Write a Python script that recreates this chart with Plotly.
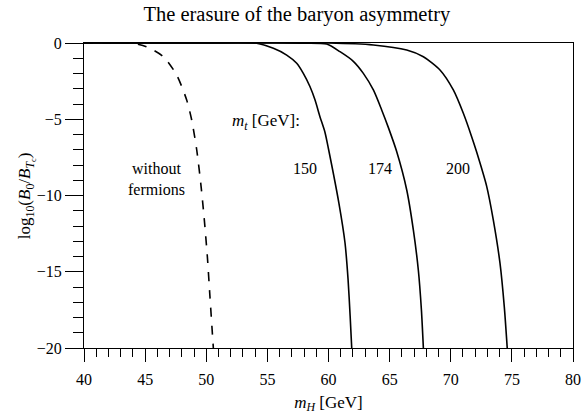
import plotly.graph_objects as go

# Data
x_nof = [40, 42, 43.8, 45.1, 46.5, 47.58, 48.4, 48.81, 49.22, 49.55, 49.82, 50.09, 50.3, 50.58]
y_nof = [0, 0, 0, -0.24, -0.9, -2.1, -3.74, -5.05, -7.0, -9.2, -11.4, -14.0, -16.6, -20]

x_150 = [40, 50, 54.12, 55.49, 56.58, 57.4, 57.94, 58.49, 58.9, 59.3, 59.71, 60.0, 60.85, 61.35, 61.6, 61.77, 61.9]
y_150 = [0, 0, -0.02, -0.35, -0.79, -1.33, -1.99, -2.87, -3.74, -4.83, -5.85, -6.95, -10.5, -13.1, -15.5, -17.9, -20]

x_174 = [40, 55, 57.8, 59.85, 60.94, 62.03, 62.85, 63.67, 64.35, 64.9, 65.57, 66.4, 66.94, 67.35, 67.6, 67.76]
y_174 = [0, 0, -0.01, -0.07, -0.57, -1.2, -1.99, -3.08, -4.39, -5.55, -7.1, -9.64, -12.26, -14.9, -17.5, -20]

x_200 = [40, 60, 63.67, 66.4, 67.76, 69.12, 70.21, 71.03, 71.71, 72.1, 72.94, 73.48, 74.03, 74.38, 74.62]
y_200 = [0, 0, -0.13, -0.46, -0.9, -1.77, -3.08, -4.61, -6.14, -7.1, -9.4, -11.6, -14.45, -17.3, -20]

labels = ["without<br>fermions", "150", "174", "200"]
label_x = [45.9, 58.1, 64.2, 70.6]
label_y = [-8.92, -8.2, -8.2, -8.2]

FONT = "Liberation Serif"

fig = go.Figure()
fig.add_trace(go.Scatter(x=x_nof, y=y_nof, mode="lines",
                         line=dict(color="black", width=1.6, dash="dash", shape="spline", smoothing=0.7)))
for xs, ys in [(x_150, y_150), (x_174, y_174), (x_200, y_200)]:
    fig.add_trace(go.Scatter(x=xs, y=ys, mode="lines",
                             line=dict(color="black", width=1.6, shape="spline", smoothing=0.7)))

for t, lx, ly in zip(labels, label_x, label_y):
    fig.add_annotation(x=lx, y=ly, text=t, showarrow=False,
                       font=dict(family=FONT, size=16, color="black"))
fig.add_annotation(x=54.9, y=-5.16, text="<i>m</i><sub><i>t</i></sub> [GeV]:", showarrow=False,
                   font=dict(family=FONT, size=17, color="black"))
# y-axis title
fig.add_annotation(xref="paper", yref="paper", x=-0.117, y=0.5, xanchor="center", yanchor="middle",
                   textangle=-90, showarrow=False,
                   text="log<sub>10</sub>(<i>B</i><sub>0</sub>/<i>B</i><sub><i>T</i><sub>c</sub></sub>)",
                   font=dict(family=FONT, size=17, color="black"))

axis_common = dict(showgrid=False, zeroline=False, showline=True, linecolor="black", linewidth=1,
                   mirror=True, ticks="outside", tickcolor="black", tickwidth=1, ticklen=13,
                   automargin=False, ticklabeloverflow="allow",
                   tickfont=dict(family=FONT, size=16, color="black"))

fig.update_xaxes(range=[40, 80], tickvals=[40, 45, 50, 55, 60, 65, 70, 75, 80],
                 minor=dict(dtick=1, ticks="outside", ticklen=8, tickcolor="black", tickwidth=1),
                 ticklabelstandoff=4,
                 title=dict(text="<i>m</i><sub><i>H</i></sub> [GeV]", font=dict(family=FONT, size=17, color="black"),
                            standoff=8),
                 **axis_common)
fig.update_yaxes(range=[-20, 0], tickvals=[0, -5, -10, -15, -20],
                 minor=dict(dtick=1, ticks="outside", ticklen=10, tickcolor="black", tickwidth=1),
                 **axis_common)
fig.update_yaxes(ticklen=18)

fig.update_layout(
    width=582, height=418,
    margin=dict(l=84, r=9, t=43, b=70),
    paper_bgcolor="white", plot_bgcolor="white",
    showlegend=False,
    title=dict(text="The erasure of the baryon asymmetry", x=0.51, xanchor="center", y=0.966, yanchor="middle",
               font=dict(family=FONT, size=20.5, color="black")),
)

# remove the default page margin so the figure fills the window exactly
fig.write_html("out.html", config={"displayModeBar": False},
               post_script="document.body.style.margin='0';document.body.style.overflow='hidden';")
